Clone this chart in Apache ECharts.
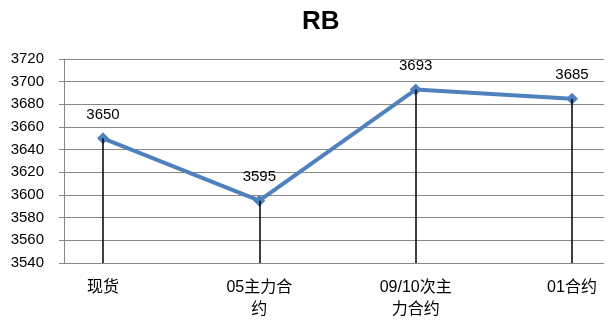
<!DOCTYPE html>
<html>
<head>
<meta charset="utf-8">
<script src="https://cdn.jsdelivr.net/npm/echarts@6/dist/echarts.min.js"></script>
<style>
html,body{margin:0;padding:0;background:#fff;}
#chart{width:608px;height:320px;}
</style>
</head>
<body>
<div id="chart"></div>
<script>
// RB price by contract
var categories = ['现货', '05主力合约', '09/10次主力合约', '01合约'];
var prices = [3650, 3595, 3693, 3685];
var yMin = 3540, yMax = 3720, yStep = 20;

var FONT = '"Liberation Sans", "Noto Sans CJK SC", sans-serif';
var chart = echarts.init(document.getElementById('chart'));

// drop lines from each point down to the category axis
var dropLines = prices.map(function (v, i) {
  return [{ coord: [i, v] }, { coord: [i, yMin] }];
});

chart.setOption({
  animation: false,
  title: {
    text: 'RB', left: 297, top: 4,
    textStyle: { fontFamily: FONT, fontSize: 26, fontWeight: 'bold', color: '#000' }
  },
  grid: [
    { left: 64, right: 4, top: 59, bottom: 57, outerBoundsMode: 'none', containLabel: false },
    { left: 103, right: 36, top: 59, bottom: 57, outerBoundsMode: 'none', containLabel: false }
  ],
  xAxis: [
    { type: 'value', gridIndex: 0, min: 0, max: 1, show: false },
    {
      type: 'category', gridIndex: 1, data: categories, boundaryGap: false,
      axisLine: { show: false }, axisTick: { show: false },
      axisLabel: {
        interval: 0, margin: 14, width: 78, overflow: 'break', lineHeight: 22,
        fontFamily: FONT, fontSize: 16, color: '#000'
      }
    }
  ],
  yAxis: [
    {
      type: 'value', gridIndex: 0, min: yMin, max: yMax, interval: yStep,
      axisLine: { show: true, lineStyle: { color: '#868686', width: 1 } },
      axisTick: { show: true, length: 5, inside: false, lineStyle: { color: '#868686' } },
      axisLabel: {
        margin: 20, fontFamily: FONT, fontSize: 15, color: '#000',
        formatter: function (v) { return String(v); }
      },
      splitLine: { show: true, lineStyle: { color: '#868686', width: 1 } }
    },
    { type: 'value', gridIndex: 1, min: yMin, max: yMax, show: false, splitLine: { show: false } }
  ],
  series: [
    {
      type: 'line', xAxisIndex: 1, yAxisIndex: 1, data: prices,
      symbol: 'diamond', symbolSize: 12,
      lineStyle: { color: '#4F81BD', width: 4 },
      itemStyle: { color: '#4F81BD' },
      label: {
        show: true, position: 'top', distance: 10,
        fontFamily: FONT, fontSize: 15, color: '#000'
      },
      markLine: {
        silent: true, symbol: 'none',
        label: { show: false },
        lineStyle: { color: '#000', width: 1.5, type: 'solid' },
        data: dropLines
      },
      z: 3
    }
  ]
});
</script>
</body>
</html>
